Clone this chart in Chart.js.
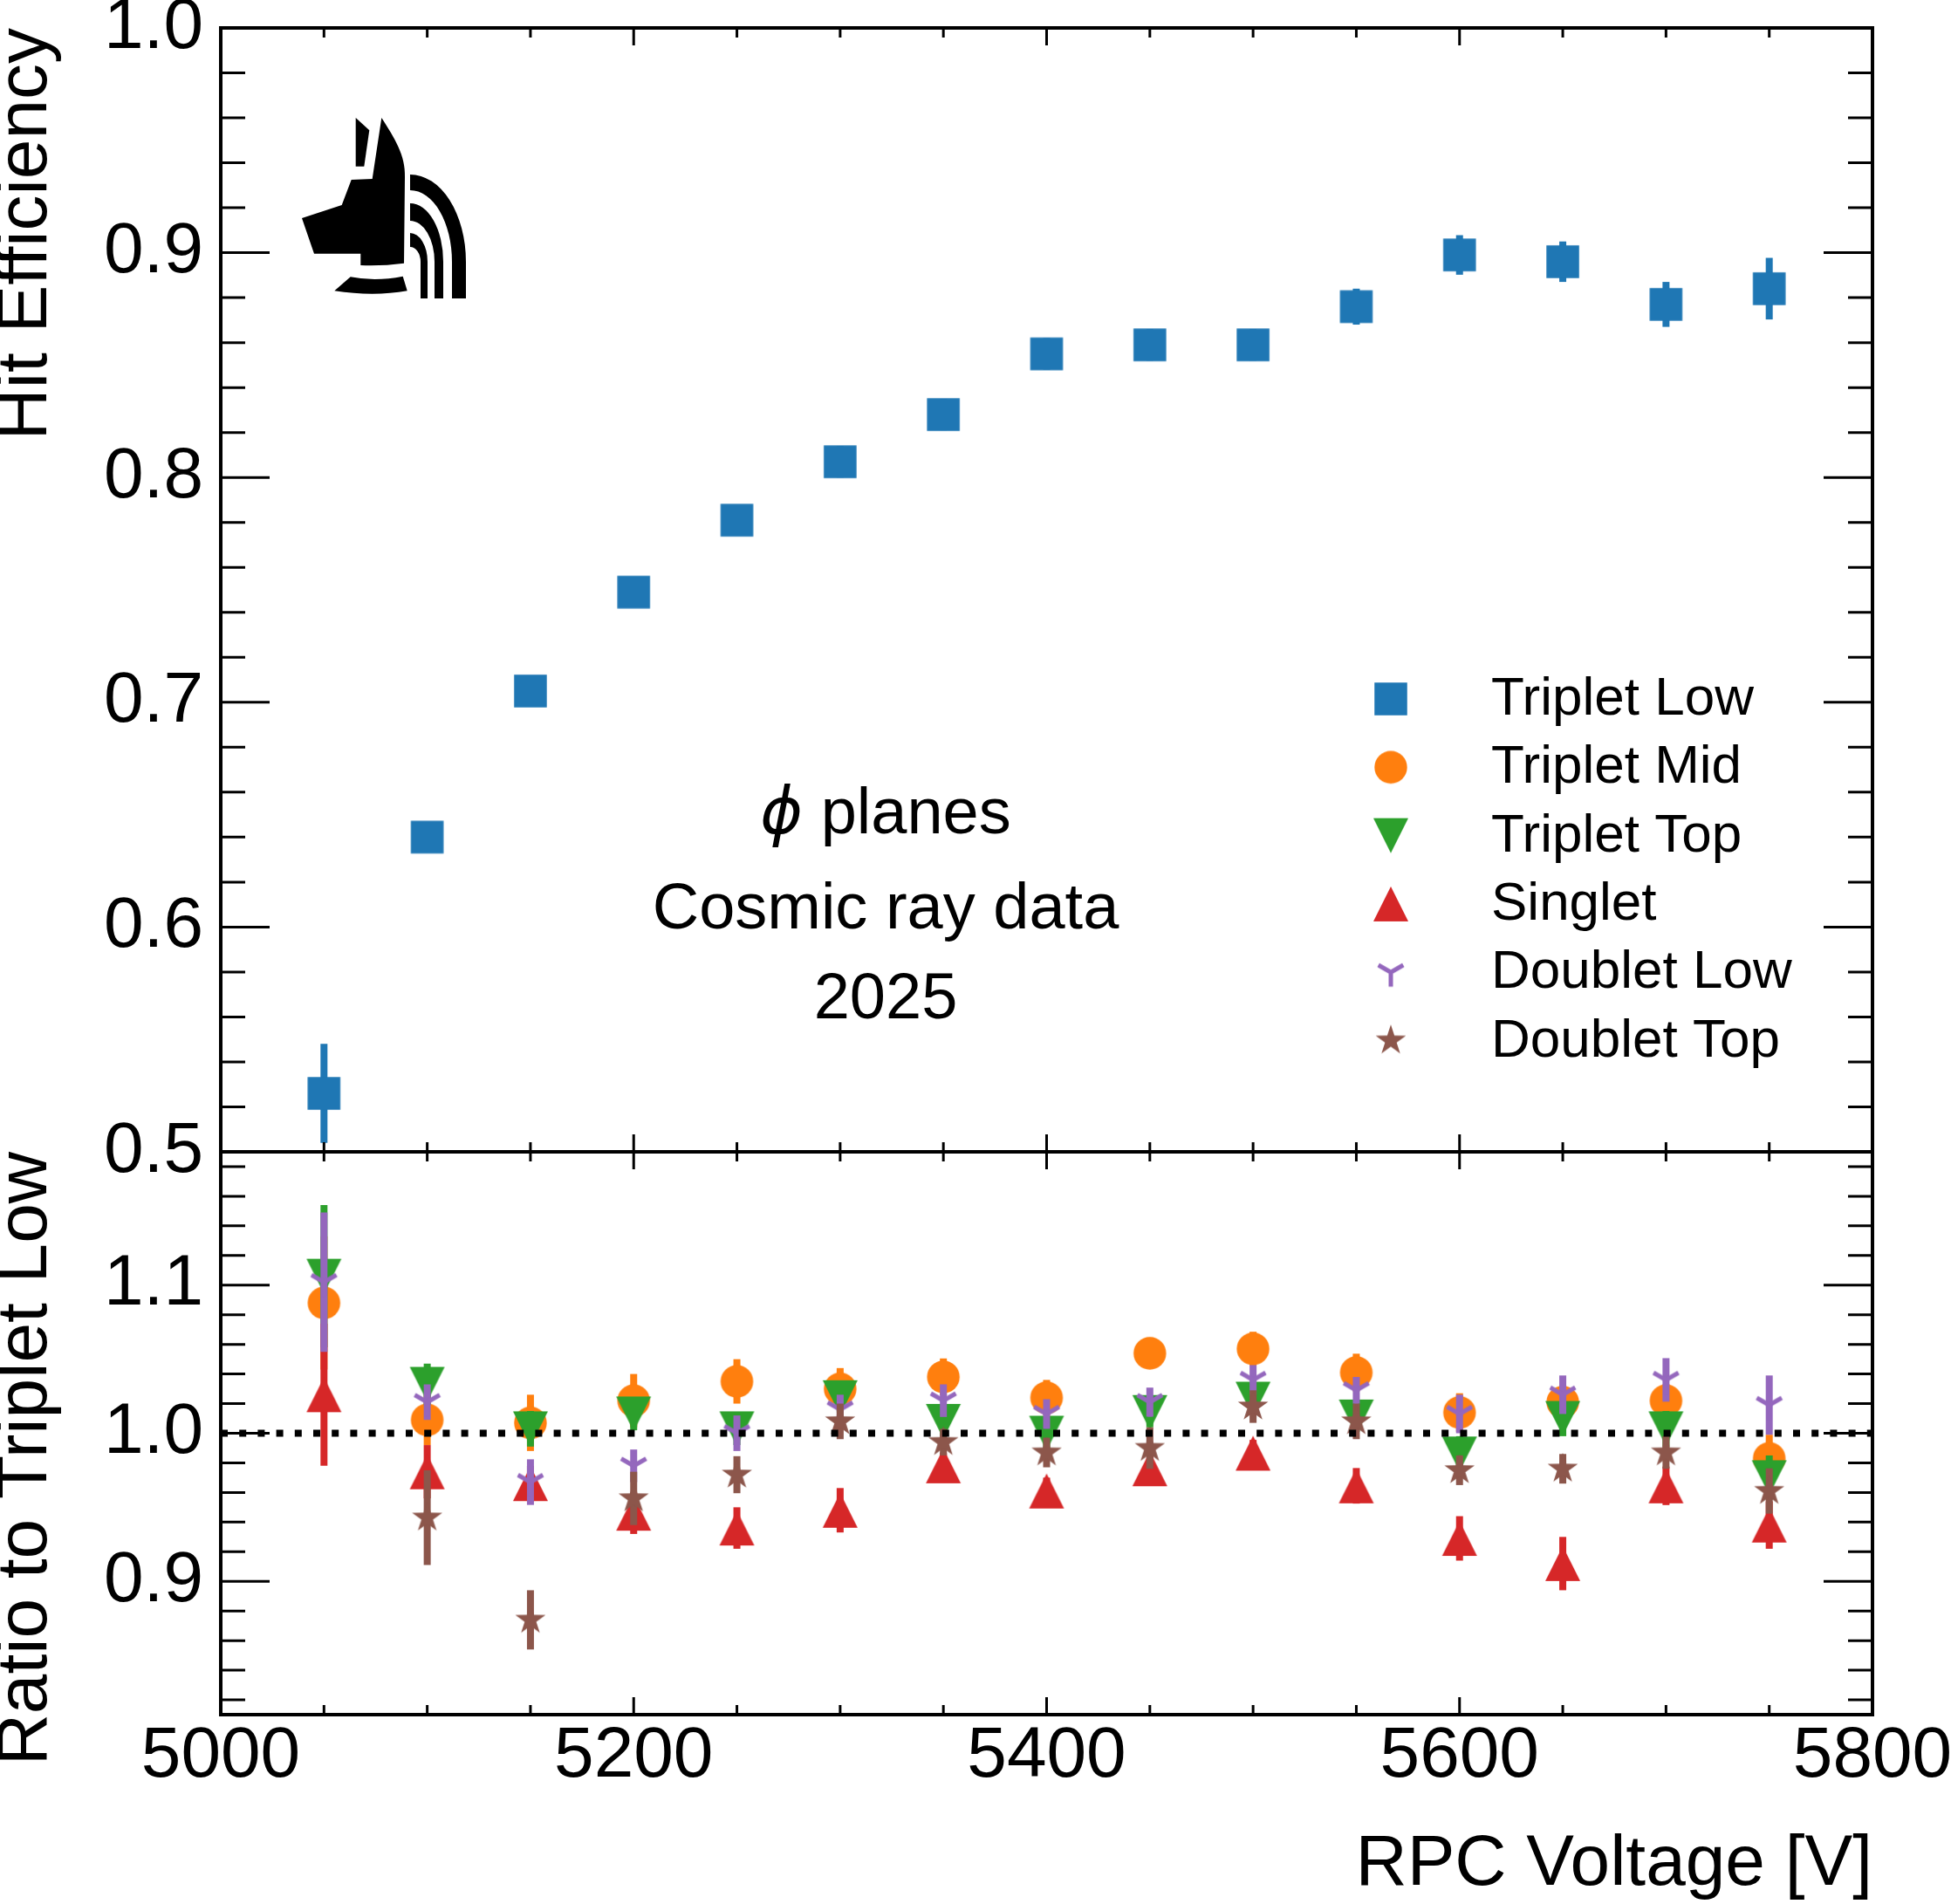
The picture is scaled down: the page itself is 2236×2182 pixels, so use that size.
<!DOCTYPE html>
<html>
<head>
<meta charset="utf-8">
<script src="https://cdn.jsdelivr.net/npm/chart.js@4.4.1/dist/chart.umd.min.js"></script>
<style>
  body { margin: 0; background: #fff; }
  #wrap { position: relative; width: 2236px; height: 2182px; }
  #wrap canvas { position: absolute; left: 0; top: 0; }
</style>
</head>
<body>
<div id="wrap">
  <canvas id="ratioChart" width="2236" height="2182"></canvas>
  <canvas id="effChart" width="2236" height="2182"></canvas>
</div>
<script>
// ---- data ----
const voltages = [5050, 5100, 5150, 5200, 5250, 5300, 5350, 5400, 5450, 5500, 5550, 5600, 5650, 5700, 5750];

const effTripletLow = [0.526, 0.640, 0.705, 0.749, 0.781, 0.807, 0.828, 0.855, 0.859, 0.859, 0.876, 0.899, 0.896, 0.877, 0.884];
const errTripletLow = [0.022, 0.006, 0.006, 0.006, 0.006, 0.007, 0.007, 0.007, 0.007, 0.007, 0.008, 0.0088, 0.009, 0.010, 0.0137];

const ratioTripletMid = [1.088, 1.009, 1.007, 1.022, 1.035, 1.030, 1.038, 1.024, 1.054, 1.057, 1.041, 1.014, 1.021, 1.022, 0.983];
const errTripletMid = [0.045, 0.017, 0.019, 0.018, 0.015, 0.014, 0.0125, 0.012, 0.009, 0.0115, 0.0127, 0.013, 0.011, 0.011, 0.016];

const ratioTripletTop = [1.106, 1.033, 1.003, 1.013, 1.003, 1.024, 1.008, 1.000, 1.014, 1.023, 1.011, 0.986, 1.010, 1.003, 0.970];
const errTripletTop = [0.048, 0.014, 0.012, 0.011, 0.011, 0.010, 0.010, 0.010, 0.010, 0.010, 0.010, 0.012, 0.012, 0.012, 0.015];

const ratioSinglet = [1.026, 0.974, 0.966, 0.946, 0.936, 0.948, 0.978, 0.961, 0.976, 0.9865, 0.9645, 0.929, 0.912, 0.9645, 0.938];
const errSinglet = [0.048, 0.018, 0.012, 0.014, 0.014, 0.015, 0.009, 0.009, 0.009, 0.009, 0.012, 0.015, 0.018, 0.013, 0.016];

const ratioDoubletLow = [1.102, 1.021, 0.967, 0.978, 1.000, 1.016, 1.022, 1.013, 1.021, 1.036, 1.029, 1.013, 1.026, 1.036, 1.019];
const errDoubletLow = [0.047, 0.012, 0.0154, 0.011, 0.012, 0.010, 0.011, 0.010, 0.0098, 0.010, 0.009, 0.013, 0.013, 0.0147, 0.020];

const ratioDoubletTop = [null, 0.943, 0.874, 0.956, 0.972, 1.008, 0.994, 0.987, 0.990, 1.018, 1.008, 0.975, 0.976, 0.987, 0.961];
const errDoubletTop = [null, 0.032, 0.020, 0.018, 0.0125, 0.012, 0.009, 0.010, 0.014, 0.011, 0.012, 0.010, 0.010, 0.011, 0.0153];

const seriesNames = ['Triplet Low', 'Triplet Mid', 'Triplet Top', 'Singlet', 'Doublet Low', 'Doublet Top'];
const xTicks = [5000, 5200, 5400, 5600, 5800];
const effTicks = [0.5, 0.6, 0.7, 0.8, 0.9, 1.0];
const ratioTicks = [0.9, 1.0, 1.1];
const annotationLines = ['planes', 'Cosmic ray data', '2025'];

// ---- style ----
const FONT = "'Liberation Sans', Arial, Helvetica, sans-serif";
const BLUE = '#1f77b4', ORANGE = '#ff7f0e', GREEN = '#2ca02c', RED = '#d62728', PURPLE = '#9467bd', BROWN = '#8c564b';

function markerCanvas(draw) {
  const c = document.createElement('canvas');
  c.width = 48; c.height = 48;
  draw(c.getContext('2d'), 24);
  return c;
}
const mkSquare = markerCanvas((g, m) => { g.fillStyle = BLUE; g.fillRect(m - 18.75, m - 18.75, 37.5, 37.5); });
const mkCircle = markerCanvas((g, m) => { g.fillStyle = ORANGE; g.beginPath(); g.arc(m, m, 18.7, 0, Math.PI * 2); g.fill(); });
const mkDown = markerCanvas((g, m) => {
  g.fillStyle = GREEN; g.beginPath();
  g.moveTo(m - 20, m - 20); g.lineTo(m + 20, m - 20); g.lineTo(m, m + 20); g.closePath(); g.fill();
});
const mkUp = markerCanvas((g, m) => {
  g.fillStyle = RED; g.beginPath();
  g.moveTo(m, m - 20); g.lineTo(m + 20, m + 20); g.lineTo(m - 20, m + 20); g.closePath(); g.fill();
});
const mkTri = markerCanvas((g, m) => {
  g.strokeStyle = PURPLE; g.lineWidth = 5; g.beginPath();
  g.moveTo(m, m); g.lineTo(m, m + 16.5);
  g.moveTo(m, m); g.lineTo(m - 14.3, m - 8.25);
  g.moveTo(m, m); g.lineTo(m + 14.3, m - 8.25);
  g.stroke();
});
const mkStar = markerCanvas((g, m) => {
  g.fillStyle = BROWN; g.beginPath();
  for (let i = 0; i < 10; i++) {
    const r = i % 2 === 0 ? 18.2 : 7.0;
    const a = -Math.PI / 2 + i * Math.PI / 5;
    g.lineTo(m + r * Math.cos(a), m + r * Math.sin(a));
  }
  g.closePath(); g.fill();
});
const legendMarkers = [mkSquare, mkCircle, mkDown, mkUp, mkTri, mkStar];

const pts = vals => voltages.map((v, i) => ({ x: v, y: vals[i] }));

function series(label, vals, errs, color, marker, order) {
  return {
    label, data: pts(vals), errors: errs, errColor: color, order,
    pointStyle: marker, pointRadius: 20, borderWidth: 0,
    backgroundColor: color, borderColor: color
  };
}

// error bars drawn just before each dataset so the stacking follows dataset order
const errorBars = {
  id: 'errorBars',
  beforeDatasetDraw(chart, args) {
    const ds = chart.data.datasets[args.index];
    if (!ds.errors) return;
    const y = chart.scales.y, a = chart.chartArea, ctx = chart.ctx;
    ctx.save();
    ctx.beginPath(); ctx.rect(a.left, a.top, a.right - a.left, a.bottom - a.top); ctx.clip();
    ctx.strokeStyle = ds.errColor; ctx.lineWidth = 8; ctx.lineCap = 'butt';
    args.meta.data.forEach((p, i) => {
      const v = ds.data[i].y, e = ds.errors[i];
      if (v == null || e == null) return;
      ctx.beginPath();
      ctx.moveTo(p.x, y.getPixelForValue(v + e));
      ctx.lineTo(p.x, y.getPixelForValue(v - e));
      ctx.stroke();
    });
    ctx.restore();
  }
};

// inward ticks on all four sides + frame
const frame = {
  id: 'frame',
  afterDraw(chart, args, o) {
    const { ctx, chartArea: a, scales: { x, y } } = chart;
    const isMajor = (v, step) => Math.abs(v / step - Math.round(v / step)) < 1e-6;
    ctx.save();
    ctx.strokeStyle = '#000';
    ctx.lineWidth = 3;
    ctx.beginPath();
    for (let k = Math.ceil(x.min / o.xMinor - 1e-6); k <= Math.floor(x.max / o.xMinor + 1e-6); k++) {
      const v = k * o.xMinor, px = x.getPixelForValue(v);
      const L = isMajor(v, o.xMajor) ? 20 : 11;
      ctx.moveTo(px, a.bottom); ctx.lineTo(px, a.bottom - L);
      ctx.moveTo(px, a.top); ctx.lineTo(px, a.top + L);
    }
    for (let k = Math.ceil(y.min / o.yMinor - 1e-6); k <= Math.floor(y.max / o.yMinor + 1e-6); k++) {
      const v = k * o.yMinor, py = y.getPixelForValue(v);
      const L = isMajor(v, o.yMajor) ? 56 : 28;
      ctx.moveTo(a.left, py); ctx.lineTo(a.left + L, py);
      ctx.moveTo(a.right, py); ctx.lineTo(a.right - L, py);
    }
    ctx.stroke();
    ctx.lineWidth = 4;
    ctx.strokeRect(a.left, a.top, a.right - a.left, a.bottom - a.top);
    ctx.restore();
  }
};

function drawLogo(ctx) {
  ctx.save();
  ctx.fillStyle = '#000';
  ctx.beginPath();
  ctx.moveTo(407.7, 135); ctx.lineTo(423.3, 149.3); ctx.lineTo(417.3, 190.7); ctx.lineTo(407.7, 190.7);
  ctx.closePath(); ctx.fill();
  ctx.beginPath();
  ctx.moveTo(437.3, 135);
  ctx.bezierCurveTo(452, 158, 465, 178, 464, 203);
  ctx.lineTo(463, 301.7);
  ctx.quadraticCurveTo(438, 305, 413.3, 304);
  ctx.lineTo(413.3, 290.7); ctx.lineTo(360, 290.7); ctx.lineTo(346, 250);
  ctx.lineTo(391.7, 235); ctx.lineTo(402.7, 206); ctx.lineTo(426.7, 205);
  ctx.closePath(); ctx.fill();
  ctx.beginPath();
  ctx.moveTo(383.3, 333.3); ctx.lineTo(401.7, 317.3);
  ctx.quadraticCurveTo(430, 323, 461.7, 316.7);
  ctx.lineTo(466.7, 333.3);
  ctx.quadraticCurveTo(428, 340, 383.3, 333.3);
  ctx.closePath(); ctx.fill();
  const cx = 470, yc = 300, yb = 342;
  [[200, 64, 218, 48], [233, 38, 253, 28], [267, 20, 283, 12]].forEach(([ot, orx, it, irx]) => {
    ctx.beginPath();
    ctx.ellipse(cx, yc, orx, yc - ot, 0, -Math.PI / 2, 0, false);
    ctx.lineTo(cx + orx, yb); ctx.lineTo(cx + irx, yb); ctx.lineTo(cx + irx, yc);
    ctx.ellipse(cx, yc, irx, yc - it, 0, 0, -Math.PI / 2, true);
    ctx.closePath(); ctx.fill();
  });
  ctx.restore();
}

const decorations = {
  id: 'decorations',
  afterDraw(chart) {
    const ctx = chart.ctx;
    ctx.save();
    ctx.fillStyle = '#000';
    // legend
    ctx.font = '62px ' + FONT;
    ctx.textBaseline = 'middle';
    ctx.textAlign = 'left';
    seriesNames.forEach((name, i) => {
      const cy = 801 + i * 78.3;
      const img = legendMarkers[i];
      ctx.drawImage(img, 1594 - img.width / 2, cy - img.height / 2);
      ctx.fillText(name, 1709, cy + 1);
    });
    // annotation
    const cxText = 1015;
    ctx.textBaseline = 'alphabetic';
    ctx.font = 'italic 74px "DejaVu Sans"';
    const phi = '\u03D5';
    const wPhi = ctx.measureText(phi).width;
    ctx.font = '74px ' + FONT;
    const rest = ' ' + annotationLines[0];
    const wRest = ctx.measureText(rest).width;
    const x0 = cxText - (wPhi + wRest) / 2;
    ctx.font = 'italic 74px "DejaVu Sans"';
    ctx.fillText(phi, x0, 955);
    ctx.font = '74px ' + FONT;
    ctx.fillText(rest, x0 + wPhi, 955);
    ctx.textAlign = 'center';
    ctx.fillText(annotationLines[1], cxText, 1064);
    ctx.fillText(annotationLines[2], cxText, 1167);
    ctx.restore();
    drawLogo(ctx);
  }
};

function yAxis(min, max, ticks, title) {
  return {
    type: 'linear', position: 'left', min, max,
    grid: { display: false, drawTicks: false }, border: { display: false },
    afterBuildTicks: s => { s.ticks = ticks.map(v => ({ value: v })); },
    afterFit: s => { s.width = 253; s.paddingTop = 0; s.paddingBottom = 0; },
    ticks: { padding: 20, autoSkip: false, color: '#000', font: { family: FONT, size: 82 }, callback: v => v.toFixed(1) },
    title: { display: true, text: title, align: 'end', color: '#000', padding: 0,
             font: { family: FONT, size: 82, lineHeight: 0.75 } }
  };
}

Chart.defaults.font.family = FONT;

new Chart(document.getElementById('effChart'), {
  type: 'scatter',
  data: {
    datasets: [series(seriesNames[0], effTripletLow, errTripletLow, BLUE, mkSquare, 1)]
  },
  options: {
    responsive: false, animation: false, events: [],
    layout: { padding: { left: 0, right: 90, top: 32, bottom: 862 } },
    plugins: { legend: { display: false }, tooltip: { enabled: false },
               frame: { xMinor: 50, xMajor: 200, yMinor: 0.02, yMajor: 0.1 } },
    scales: {
      x: { type: 'linear', display: false, min: 5000, max: 5800 },
      y: yAxis(0.5, 1.0, effTicks, 'Hit Efficiency')
    }
  },
  plugins: [errorBars, frame, decorations]
});

new Chart(document.getElementById('ratioChart'), {
  type: 'scatter',
  data: {
    datasets: [
      series(seriesNames[1], ratioTripletMid, errTripletMid, ORANGE, mkCircle, 6),
      series(seriesNames[2], ratioTripletTop, errTripletTop, GREEN, mkDown, 5),
      series(seriesNames[3], ratioSinglet, errSinglet, RED, mkUp, 4),
      series(seriesNames[4], ratioDoubletLow, errDoubletLow, PURPLE, mkTri, 3),
      series(seriesNames[5], ratioDoubletTop, errDoubletTop, BROWN, mkStar, 2),
      {
        type: 'line', label: 'unity', order: 1,
        data: [{ x: 5000, y: 1 }, { x: 5800, y: 1 }],
        borderColor: '#000', borderWidth: 8, borderDash: [8, 13.2], pointRadius: 0, fill: false
      }
    ]
  },
  options: {
    responsive: false, animation: false, events: [],
    layout: { padding: { left: 0, right: 90, top: 1320, bottom: 0 } },
    plugins: { legend: { display: false }, tooltip: { enabled: false },
               frame: { xMinor: 50, xMajor: 200, yMinor: 0.02, yMajor: 0.1 } },
    scales: {
      x: {
        type: 'linear', position: 'bottom', min: 5000, max: 5800,
        grid: { display: false, drawTicks: false }, border: { display: false },
        afterBuildTicks: s => { s.ticks = xTicks.map(v => ({ value: v })); },
        afterFit: s => { s.height = 217; s.paddingLeft = 0; s.paddingRight = 0; },
        ticks: { padding: -1, maxRotation: 0, autoSkip: false, color: '#000',
                 font: { family: FONT, size: 82 }, callback: v => String(v) },
        title: { display: true, text: 'RPC Voltage [V]', align: 'end', color: '#000',
                 padding: { top: 0, bottom: 4 }, font: { family: FONT, size: 82, lineHeight: 1 } }
      },
      y: yAxis(0.81, 1.19, ratioTicks, 'Ratio to Triplet Low')
    }
  },
  plugins: [errorBars, frame]
});
</script>
</body>
</html>
